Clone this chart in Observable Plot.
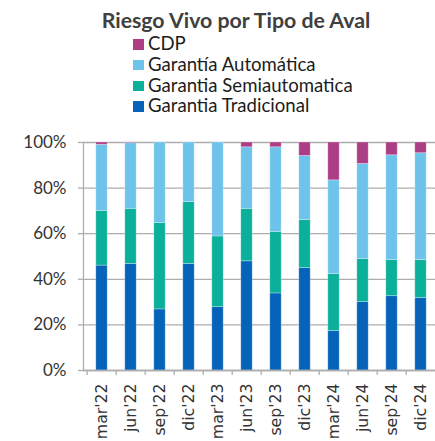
<!DOCTYPE html>
<html>
<head>
<meta charset="utf-8">
<script src="https://cdn.jsdelivr.net/npm/d3@7"></script>
<script src="https://cdn.jsdelivr.net/npm/@observablehq/plot@0.6"></script>
<style>
  html, body { margin: 0; padding: 0; background: #fff; overflow: hidden; }
  #wrap { position: relative; width: 435px; height: 441px; font-family: Lato, sans-serif; }
  #title { position: absolute; top: 6.5px; left: 236px; transform: translateX(-50%); white-space: nowrap;
           font: bold 21.3px Lato, sans-serif; color: #404040; }
  .row { position: absolute; left: 133px; height: 20.7px; line-height: 20.7px; font-size: 18.6px; color: #1c1c1c; white-space: nowrap; }
  .sq { position: absolute; left: 0; top: 6px; width: 11px; height: 10.5px; }
  .lbl { position: absolute; left: 15px; top: 0; }
  #chart { position: absolute; left: 0; top: 120px; }
</style>
</head>
<body>
<div id="wrap">
  <div id="title"></div>
  <div id="legend"></div>
  <div id="chart"></div>
</div>
<script>
const title = "Riesgo Vivo por Tipo de Aval";
const periods = ["mar'22", "jun'22", "sep'22", "dic'22", "mar'23", "jun'23", "sep'23", "dic'23", "mar'24", "jun'24", "sep'24", "dic'24"];
const seriesNames = ["Garantia Tradicional", "Garantia Semiautomatica", "Garantía Automática", "CDP"];
const seriesColors = ["#0564b9", "#0ab09a", "#6ec3eb", "#ad3e85"];
const legendOrder = ["CDP", "Garantía Automática", "Garantia Semiautomatica", "Garantia Tradicional"];
const tradicional    = [46.0, 46.7, 26.8, 46.7, 27.8, 47.9, 33.8, 44.9, 17.3, 30.0, 32.6, 31.8];
const semiautomatica = [24.0, 24.2, 37.9, 27.2, 31.0, 23.0, 27.0, 21.1, 25.0, 18.9, 15.8, 16.6];
const automatica     = [29.0, 28.8, 35.3, 26.1, 41.2, 27.0, 37.1, 28.1, 41.1, 41.7, 46.0, 46.9];
const cdp            = [1.0, 0.3, 0.0, 0.0, 0.0, 2.1, 2.1, 5.9, 16.6, 9.4, 5.6, 4.7];
const yTicks = [0, 0.2, 0.4, 0.6, 0.8, 1.0];

const seriesValues = [tradicional, semiautomatica, automatica, cdp];
const table = [];
seriesNames.forEach((s, si) => {
  periods.forEach((p, pi) => table.push({period: p, series: s, value: seriesValues[si][pi] / 100}));
});

document.getElementById("title").textContent = title;
const legend = document.getElementById("legend");
legendOrder.forEach((name, i) => {
  const row = document.createElement("div");
  row.className = "row";
  row.style.top = (33.2 + i * 20.7) + "px";
  const sq = document.createElement("span");
  sq.className = "sq";
  sq.style.background = seriesColors[seriesNames.indexOf(name)];
  const lbl = document.createElement("span");
  lbl.className = "lbl";
  lbl.textContent = name;
  row.appendChild(sq); row.appendChild(lbl);
  legend.appendChild(row);
});

const W = 435, H = 321, mL = 83, mT = 22, mB = 71;
const step = 29.6;
const chart = Plot.plot({
  width: W,
  height: H,
  marginLeft: mL,
  marginRight: 0,
  marginTop: mT,
  marginBottom: mB,
  style: {fontFamily: "Lato, sans-serif", background: "transparent", overflow: "visible"},
  x: {domain: periods, range: [mL, mL + step * periods.length], padding: 0},
  y: {domain: [0, 1]},
  color: {domain: seriesNames, range: seriesColors},
  marks: [
    Plot.gridY(yTicks, {stroke: "#adadad", strokeOpacity: 1, strokeWidth: 1.3}),
    Plot.barY(table, {x: "period", y: "value", fill: "series", insetLeft: 8.8, insetRight: 8.8,
      stroke: "#ffffff", strokeOpacity: 0.35, strokeWidth: 0.8}),
    Plot.frame({anchor: "left", stroke: "#adadad", strokeWidth: 1.3}),
    Plot.ruleY([0], {stroke: "#adadad", strokeWidth: 1.3}),
    Plot.ruleX(periods, {x: d => d, y1: 0, y2: 0, dx: -step / 2, insetBottom: -5, stroke: "#adadad", strokeWidth: 1.3}),
    Plot.axisY(yTicks, {tickFormat: d3.format(".0%"), tickSize: 5, tickPadding: 12, fontSize: 17,
      stroke: "#adadad", fill: "#333", strokeWidth: 1.3, label: null}),
    Plot.axisX({tickSize: 0, tickRotate: -90, tickPadding: 13, fontSize: 15.7, fontFamily: "DejaVu Sans",
      fill: "#333", label: null})
  ]
});
document.getElementById("chart").appendChild(chart);
</script>
</body>
</html>
